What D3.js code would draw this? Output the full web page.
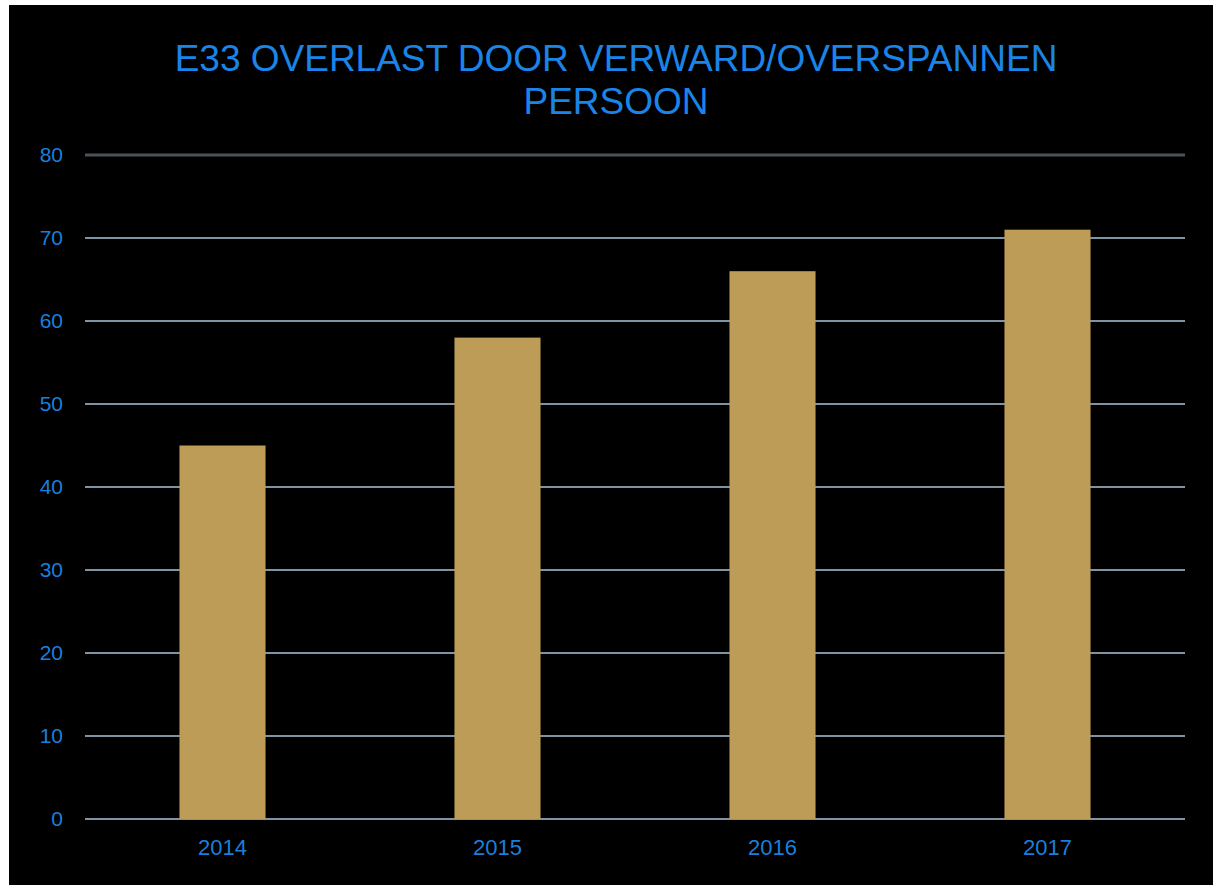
<!DOCTYPE html>
<html><head><meta charset="utf-8">
<script src="https://cdn.jsdelivr.net/npm/d3@7"></script>
<style>
html,body{margin:0;padding:0;background:#fff;}
svg{display:block;}
</style></head>
<body>
<script>
const titleLines = ["E33 OVERLAST DOOR VERWARD/OVERSPANNEN", "PERSOON"];
const categories = ["2014", "2015", "2016", "2017"];
const values = [45, 58, 66, 71];
const yTicks = [0, 10, 20, 30, 40, 50, 60, 70, 80];

const W = 1213, H = 885;
const svg = d3.select("body").append("svg").attr("width", W).attr("height", H);
svg.append("rect").attr("x", 9).attr("y", 5).attr("width", W - 9).attr("height", H - 5).attr("fill", "#000");

const plotLeft = 85, plotRight = 1185, plotTop = 155, plotBottom = 819;
const x = d3.scaleBand().domain(categories).range([plotLeft, plotRight]).paddingInner(0.687).paddingOuter(0.3435);
const y = d3.scaleLinear().domain([0, 80]).range([plotBottom, plotTop]);

const font = "'Liberation Sans', Arial, sans-serif";

// gridlines
svg.append("g").selectAll("line").data(yTicks).join("line")
  .attr("x1", plotLeft).attr("x2", plotRight)
  .attr("y1", d => y(d)).attr("y2", d => y(d))
  .attr("stroke", d => d === 80 ? "#4b5359" : "#7f93a3")
  .attr("stroke-width", d => d === 80 ? 3 : 2);

// bars
svg.append("g").selectAll("rect").data(values).join("rect")
  .attr("x", (d, i) => x(categories[i]))
  .attr("width", x.bandwidth())
  .attr("y", d => y(d))
  .attr("height", d => y(0) - y(d))
  .attr("fill", "#bd9c57");

// y axis
const yAxis = d3.axisLeft(y).tickValues(yTicks).tickSize(0).tickPadding(22);
const gy = svg.append("g").attr("transform", `translate(${plotLeft},0)`).call(yAxis);
gy.select(".domain").remove();
gy.selectAll("text").attr("fill", "#1a7fdc").style("font-family", font).style("font-size", "21px");

// x axis
const xAxis = d3.axisBottom(x).tickSize(0).tickPadding(20);
const gx = svg.append("g").attr("transform", `translate(0,${plotBottom})`).call(xAxis);
gx.select(".domain").remove();
gx.selectAll("text").attr("fill", "#1a7fdc").style("font-family", font).style("font-size", "22px");

// title
svg.append("text").attr("text-anchor", "middle").attr("fill", "#1a84e8")
  .style("font-family", font).style("font-size", "37px")
  .selectAll("tspan").data(titleLines).join("tspan")
  .attr("x", 616).attr("y", (d, i) => 71 + i * 43).text(d => d);
</script>
</body></html>
